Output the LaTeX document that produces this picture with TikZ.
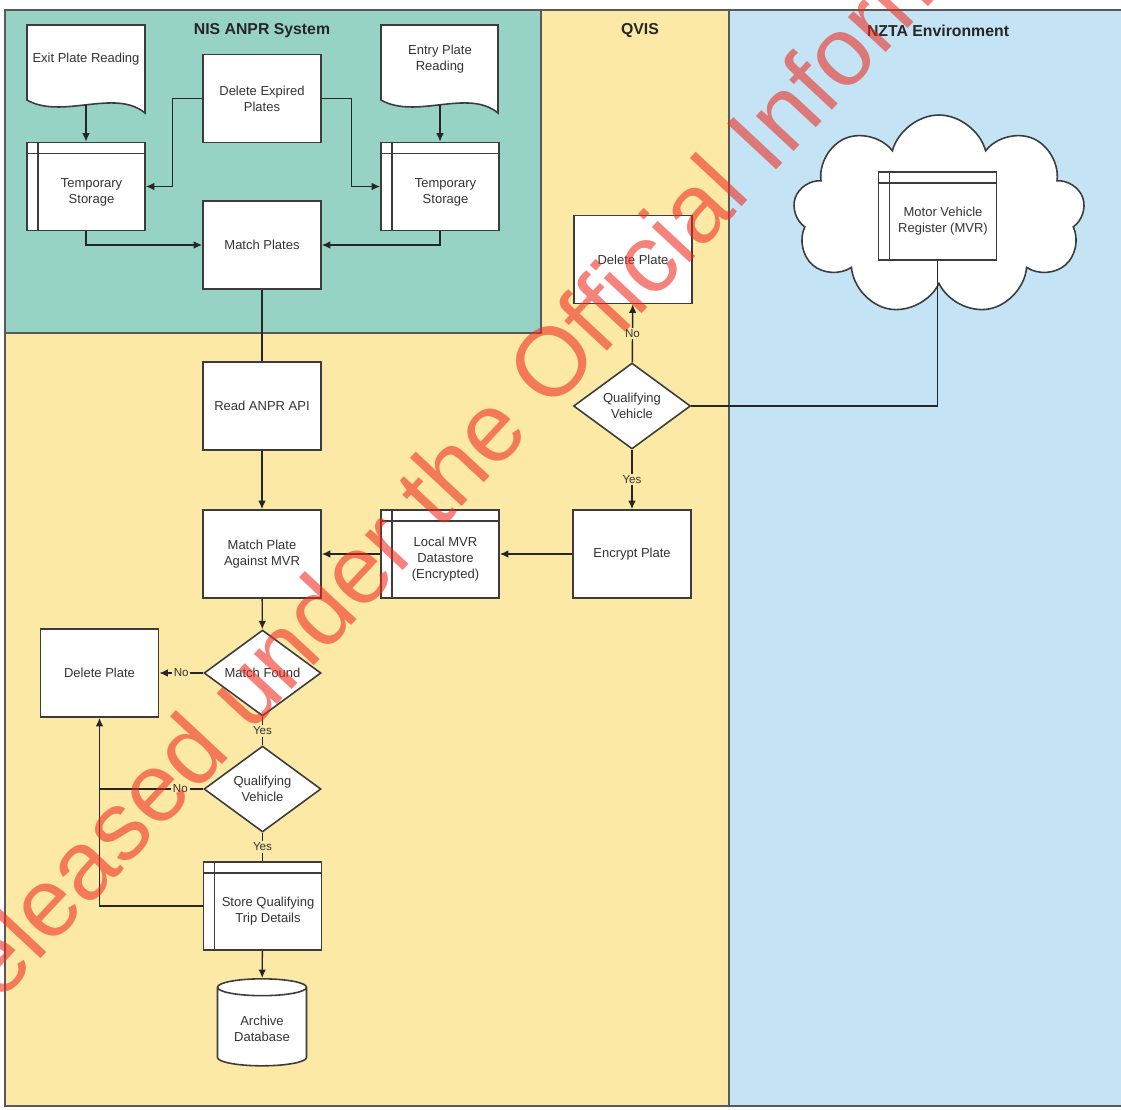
\documentclass[tikz,border=0pt]{standalone}
\usepackage{fontspec}
\setmainfont{Liberation Sans}
\usetikzlibrary{shapes.geometric,shapes.symbols,arrows.meta}

\definecolor{nisgreen}{HTML}{97D3C5}
\definecolor{qvisyellow}{HTML}{FDE9A6}
\definecolor{nztablue}{HTML}{C4E4F6}
\definecolor{laneline}{HTML}{595959}
\definecolor{boxline}{HTML}{3C3C3C}
\definecolor{boxtext}{HTML}{333333}
\definecolor{stamp}{HTML}{EE2A1E}

% text of a storage box, pushed off the header and the side bar
\newcommand\storetext[1]{\hspace*{0.22cm}\raisebox{0pt}[\dimexpr\height+0.22cm\relax]{\begin{tabular}{@{}c@{}}#1\end{tabular}}}
% document shape: left x, right x, top y
\newcommand\docshape[3]{%
  \filldraw[docline] (#1,#3) -- (#2,#3) -- (#2,#3+88)
    .. controls (#2-30,#3+63) and (#1+35,#3+95) .. (#1,#3+75) -- cycle;}

\tikzset{
  lane/.style={draw=laneline, line width=1.1pt},
  boxfont/.style={font=\fontsize{7.4}{9}\selectfont},
  proc/.style={boxfont, draw=boxline, line width=0.9pt, fill=white, text=boxtext,
    minimum width=2.36cm, minimum height=1.76cm, inner sep=1pt, align=center},
  store/.style={proc, path picture={
    \draw[boxline, line width=1pt]
      ([yshift=-0.22cm]path picture bounding box.north west) -- ([yshift=-0.22cm]path picture bounding box.north east)
      ([xshift=0.22cm]path picture bounding box.north west) -- ([xshift=0.22cm]path picture bounding box.south west);}},
  decision/.style={boxfont, diamond, draw=boxline, line width=0.9pt, fill=white, text=boxtext,
    minimum width=2.34cm, minimum height=1.72cm, inner sep=0pt, align=center},
  doctext/.style={boxfont, text=boxtext, align=center},
  docline/.style={draw=boxline, line width=0.9pt, fill=white},
  flow/.style={draw=black!85, line width=0.8pt},
  answer/.style={font=\fontsize{6.6}{8}\selectfont, text=black!80, inner sep=1pt},
  lanetitle/.style={font=\bfseries\fontsize{9}{11}\selectfont, text=black!85},
  stampmark/.style={font=\fontsize{55.5}{60}\selectfont, text=stamp, text opacity=0.58, inner sep=0pt},
  >={Latex[length=1.7mm,width=1.5mm]}
}

\begin{document}
\begin{tikzpicture}[x=0.02cm,y=-0.02cm]
	\useasboundingbox (0,0) rectangle (1121,1109);
	\clip (0,0) rectangle (1121,1109);

	% swim lanes
	\fill[qvisyellow] (5,10) rectangle (729,1106);
	\fill[nisgreen] (5,10) rectangle (541,333);
	\fill[nztablue] (729,10) rectangle (1130,1106);
	\draw[lane] (1130,10) -- (5,10) -- (5,1106) -- (1130,1106);
	\draw[lane] (5,333) -- (541,333) -- (541,10);
	\draw[lane] (729,10) -- (729,1106);

	\node[lanetitle] (nistitle) at (262,31) {NIS ANPR System};
	\node[lanetitle] (qvistitle) at (640,31) {QVIS};
	\node[lanetitle] (nztatitle) at (938,31) {NZTA Environment};

	% NIS ANPR System
	\docshape{27}{145}{25}
	\docshape{381}{498}{25}
	\node[doctext] (exit) at (86,59) {Exit Plate Reading};
	\node[doctext] (entry) at (440,59) {Entry Plate\\Reading};
	\coordinate (exitb) at (86,105);
	\coordinate (entryb) at (440,105);

	\node[proc] (delexp) at (262,98.5) {Delete Expired\\Plates};
	\node[store] (tsl) at (86,186.5) {\storetext{Temporary\\Storage}};
	\node[store] (tsr) at (440,186.5) {\storetext{Temporary\\Storage}};
	\node[proc] (match) at (262,245) {Match Plates};

	% main flow
	\node[proc] (readapi) at (262,406) {Read ANPR API};
	\node[proc] (matchmvr) at (262,554) {Match Plate\\Against MVR};
	\node[store] (localmvr) at (440,554) {\storetext{Local MVR\\Datastore\\(Encrypted)}};
	\node[proc] (delplate) at (99.5,673) {Delete Plate};
	\node[decision] (matchfound) at (262.5,673) {Match Found};
	\node[decision] (qvlocal) at (262.5,789) {Qualifying\\Vehicle};
	\node[store] (storetrip) at (262.5,906) {\storetext{Store Qualifying\\Trip Details}};
	\node[cylinder, shape border rotate=90, aspect=0.25, draw=boxline, line width=0.9pt, fill=white,
		text=boxtext, boxfont, align=center, minimum width=1.78cm, minimum height=1.74cm] (archive) at (262,1029) {Archive\\Database};

	% QVIS
	\node[proc] (delq) at (633,259.5) {Delete Plate};
	\node[decision] (qvis) at (632,406) {Qualifying\\Vehicle};
	\node[proc] (encrypt) at (632,554) {Encrypt Plate};

	% NZTA Environment
	\node[cloud, cloud puffs=9, cloud ignores aspect, draw=boxline, line width=0.9pt, fill=white,
		minimum width=5.84cm, minimum height=4cm] (mvrcloud) at (939,215) {};
	\node[store] (mvr) at (937.5,216) {\storetext{Motor Vehicle\\Register (MVR)}};

	% connectors
	\draw[flow,->] (exitb) -- (tsl);
	\draw[flow,->] (entryb) -- (tsr);
	\draw[flow,->] (delexp.west) -- ++(-30,0) |- (tsl);
	\draw[flow,->] (delexp.east) -- ++(30,0) |- (tsr);
	\draw[flow,->] (tsl.south) |- (match);
	\draw[flow,->] (tsr.south) |- (match);
	\draw[flow] (match) -- (readapi);
	\draw[flow,->] (readapi) -- (matchmvr);
	\draw[flow,->] (encrypt) -- (localmvr);
	\draw[flow,->] (localmvr) -- (matchmvr);
	\draw[flow,->] (qvis) -- node[answer, fill=qvisyellow] {Yes} (encrypt);
	\draw[flow,->] (qvis) -- node[answer, fill=qvisyellow] {No} (delq);
	\draw[flow] (mvr.south) |- (qvis.east);
	\draw[flow,->] (matchmvr) -- (matchfound);
	\draw[flow,->] (matchfound) -- node[answer, fill=qvisyellow] {No} (delplate);
	\draw[flow] (matchfound) -- node[answer, fill=qvisyellow] {Yes} (qvlocal);
	\draw[flow] (qvlocal.west) -- node[answer, fill=qvisyellow, pos=0.22] {No} (qvlocal.west -| delplate);
	\draw[flow,->] (storetrip.west) -| (delplate.south);
	\draw[flow] (qvlocal) -- node[answer, fill=qvisyellow] {Yes} (storetrip);
	\draw[flow,->] (storetrip) -- (archive);

	% release stamp
	\node[stampmark, anchor=base west, rotate=47] (stamp) at (-49,1055) {Released under the Official Information Act};
\end{tikzpicture}
\end{document}
